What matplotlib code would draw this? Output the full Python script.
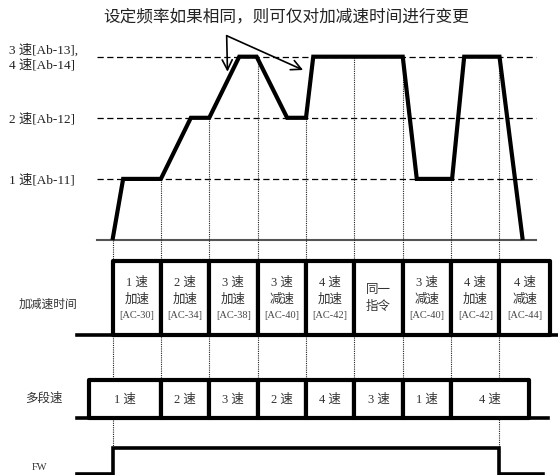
import numpy as np
import matplotlib.pyplot as plt
from matplotlib.patches import Rectangle

plt.rcParams['font.family'] = ['Liberation Serif', 'Noto Sans CJK SC']

# speed profile: time in segment units, speed level 0..3 (3 = 3速/4速)
prof_t = [0, 0.22, 1.0, 1.62, 2.0, 2.62, 2.98, 3.61, 4.0, 4.15, 6.0, 6.29, 7.02, 7.27, 8.0, 8.48]
prof_v = [0, 1, 1, 2, 2, 3, 3, 2, 2, 3, 3, 1, 1, 3, 3, 0]
level_vals = [1, 2, 3]
level_labels = ['1 速[Ab-11]', '2 速[Ab-12]', '3 速[Ab-13],\n4 速[Ab-14]']

# switching instants and the speed at each one
bound_t = [0, 1, 2, 3, 4, 5, 6, 7, 8]
bound_v = [0, 1, 2, 3, 2, 3, 3, 1, 3]

# acceleration / deceleration time row
acc_edges = [0, 1, 2, 3, 4, 5, 6, 7, 8, 9.04]
acc_labels = [
    ['1 速', '加速', '[AC-30]'],
    ['2 速', '加速', '[AC-34]'],
    ['3 速', '加速', '[AC-38]'],
    ['3 速', '减速', '[AC-40]'],
    ['4 速', '加速', '[AC-42]'],
    ['同一', '指令'],
    ['3 速', '减速', '[AC-40]'],
    ['4 速', '加速', '[AC-42]'],
    ['4 速', '减速', '[AC-44]'],
]

# multi-speed input row
ms_edges = [-0.49, 1, 2, 3, 4, 5, 6, 7, 8.61]
ms_labels = ['1 速', '2 速', '3 速', '2 速', '4 速', '3 速', '1 速', '4 速']

# FW signal
fw_t = [-0.73, 0, 0, 8, 8, 8.9]
fw_v = [0, 0, 1, 1, 0, 0]

note = '设定频率如果相同，则可仅对加减速时间进行变更'

# layout (pixel rows, time scale)
PX_T = 48.375
X0 = 112.5
BASE_Y = 240
STEP = 61.1
ACC_TOP, ACC_BOT = 261, 335
MS_TOP, MS_BOT = 380, 417.7
FW_LO, FW_H = 473.5, 25.5

fig = plt.figure(figsize=(5.58, 4.75), dpi=100)
ax = fig.add_axes([0, 0, 1, 1])
ax.set_xlim(-X0 / PX_T, (558 - X0) / PX_T)
ax.set_ylim(475, 0)
ax.axis('off')

def sy(v):
    return BASE_Y - np.asarray(v) * STEP

# dashed level lines and baseline
for lv, lab in zip(level_vals, level_labels):
    ax.plot([-0.327, 8.755], [sy(lv)] * 2, color='black', lw=0.9,
            linestyle=(0, (5, 2.8)), zorder=1)
    ax.text(-2.14, sy(lv) + 1, lab, ha='left', va='center', fontsize=9.5,
            color='#222', linespacing=1.25)
ax.plot([-0.327, 8.755], [BASE_Y] * 2, color='#555', lw=1.5, zorder=1)

# dotted switching lines
for i, (t, v) in enumerate(zip(bound_t, bound_v)):
    y_end = 448 if i in (0, len(bound_t) - 1) else MS_TOP
    ax.plot([t, t], [sy(v), y_end], color='#222', lw=0.8,
            linestyle=(0, (1, 1)), zorder=1)

# speed profile
ax.plot(prof_t, sy(prof_v), color='black', lw=3, solid_joinstyle='miter',
        solid_capstyle='butt', zorder=3)

# note with arrows
ax.text(3.59, 17, note, ha='center', va='center', fontsize=12, color='#222')
for tip in [(2.377, 71.7), (3.94, 70)]:
    ax.annotate('', xy=tip, xytext=(2.36, 35.7),
                arrowprops=dict(arrowstyle='->', lw=1.2, color='black',
                                mutation_scale=18, shrinkA=0, shrinkB=0),
                zorder=4)

# acc/dec time row
ax.plot([-0.73, 9.3], [ACC_BOT] * 2, color='black', lw=2.6, zorder=2)
for k in range(len(acc_labels)):
    x0, x1 = acc_edges[k], acc_edges[k + 1]
    ax.add_patch(Rectangle((x0, ACC_TOP), x1 - x0, ACC_BOT - ACC_TOP,
                           fc='white', ec='black', lw=3, joinstyle='round', zorder=2))
    xc = (x0 + x1) / 2
    lines = acc_labels[k]
    if len(lines) == 3:
        ax.text(xc, 283, lines[0], ha='center', va='center', fontsize=9, color='#333', zorder=5)
        ax.text(xc, 300, lines[1], ha='center', va='center', fontsize=9, color='#333', zorder=5)
        ax.text(xc, 316, lines[2], ha='center', va='center', fontsize=7.5, color='#444', zorder=5)
    else:
        ax.text(xc, 290, lines[0], ha='center', va='center', fontsize=9, color='#333', zorder=5)
        ax.text(xc, 307, lines[1], ha='center', va='center', fontsize=9, color='#333', zorder=5)
ax.text(-1.323, 305, '加减速时间', ha='center', va='center', fontsize=8.5, color='#333')

# multi-speed row
ax.plot([-0.73, 9.0], [MS_BOT] * 2, color='black', lw=2.6, zorder=2)
for k, lab in enumerate(ms_labels):
    x0, x1 = ms_edges[k], ms_edges[k + 1]
    ax.add_patch(Rectangle((x0, MS_TOP), x1 - x0, MS_BOT - MS_TOP,
                           fc='white', ec='black', lw=3, joinstyle='round', zorder=2))
    ax.text((x0 + x1) / 2, 400, lab, ha='center', va='center', fontsize=9,
            color='#333', zorder=5)
ax.text(-1.426, 399, '多段速', ha='center', va='center', fontsize=9, color='#333')

# FW signal
ax.plot(fw_t, FW_LO - np.asarray(fw_v) * FW_H, color='black', lw=2.6,
        solid_joinstyle='miter', zorder=3)
ax.text(-1.5, 468, 'FW', ha='center', va='center', fontsize=7.5, color='#333')

fig.savefig('out.png', dpi=100)
